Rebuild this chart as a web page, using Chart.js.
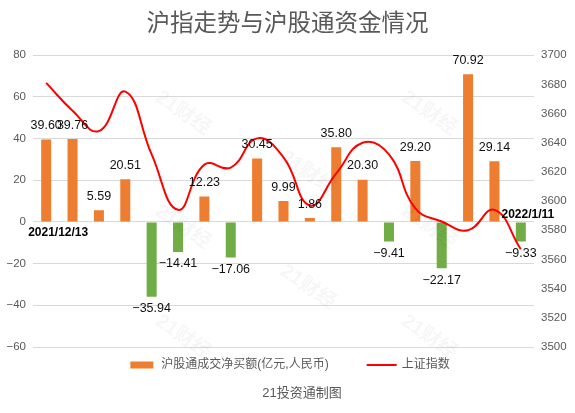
<!DOCTYPE html>
<html>
<head>
<meta charset="utf-8">
<script src="https://cdn.jsdelivr.net/npm/chart.js@4.4.1/dist/chart.umd.min.js"></script>
<style>
  html, body { margin: 0; padding: 0; background: #fff; }
  #wrap { width: 575px; height: 413px; position: relative; }
</style>
</head>
<body>
<div id="wrap"><canvas id="chart"></canvas></div>
<script>
// 日期（沪股通交易日）
const dates = [
  "2021/12/13", "2021/12/14", "2021/12/15", "2021/12/16", "2021/12/17",
  "2021/12/20", "2021/12/21", "2021/12/22", "2021/12/23", "2021/12/28",
  "2021/12/29", "2021/12/30", "2021/12/31", "2022/1/4", "2022/1/5",
  "2022/1/6", "2022/1/7", "2022/1/10", "2022/1/11"
];

// 沪股通成交净买额（亿元）
const netBuy = [
  39.60, 39.76, 5.59, 20.51, -35.94, -14.41, 12.23, -17.06, 30.45, 9.99,
  1.86, 35.80, 20.30, -9.41, 29.20, -22.17, 70.92, 29.14, -9.33
];

// 上证指数收盘
const shIndex = [
  3681, 3662, 3648, 3675, 3632, 3594, 3625, 3623, 3643, 3630,
  3597, 3619, 3640, 3632, 3595, 3586, 3580, 3594, 3567
];

const barLabel = "沪股通成交净买额(亿元,人民币)";
const lineLabel = "上证指数";
const titleText = "沪指走势与沪股通资金情况";
const sourceText = "21投资通制图";

const ORANGE = "#ED7D31";
const GREEN = "#70AD47";
const RED = "#FF0000";
const GREY = "#595959";
const FONT = '"Liberation Sans", "Noto Sans CJK SC", sans-serif';

Chart.defaults.font.family = FONT;

const fmt = (v, d) => (v < 0 ? "\u2212" : "") + Math.abs(v).toFixed(d);

// 水印
const watermark = {
  id: "watermark",
  afterDraw(chart) {
    const ctx = chart.ctx;
    const spots = [[183, 113], [429, 113], [308, 173], [183, 227], [429, 227],
                   [308, 287], [183, 337], [429, 337]];
    ctx.save();
    ctx.fillStyle = "rgba(0,0,0,0.035)";
    ctx.font = "bold 20px " + FONT;
    ctx.textAlign = "center";
    ctx.textBaseline = "middle";
    spots.forEach(([x, y]) => {
      ctx.save();
      ctx.translate(x, y);
      ctx.rotate(35 * Math.PI / 180);
      ctx.fillText("21财经", 0, 0);
      ctx.restore();
    });
    ctx.restore();
  }
};

// 柱子数值 + 首尾日期
const barLabels = {
  id: "barLabels",
  afterDatasetsDraw(chart) {
    const ctx = chart.ctx;
    const meta = chart.getDatasetMeta(0);
    const zeroY = chart.scales.y.getPixelForValue(0);
    ctx.save();
    ctx.fillStyle = "#111";
    ctx.font = "12.5px " + FONT;
    ctx.textAlign = "center";
    ctx.textBaseline = "middle";
    meta.data.forEach((bar, i) => {
      const v = netBuy[i];
      const y = v >= 0 ? bar.y - 14 : bar.y + 12;
      ctx.fillText(fmt(v, 2), bar.x, y);
    });
    ctx.font = "bold 12px " + FONT;
    ctx.fillStyle = "#000";
    const first = meta.data[0];
    const last = meta.data[meta.data.length - 1];
    ctx.fillText(dates[0], first.x + 12, zeroY + 11);
    ctx.fillText(dates[dates.length - 1], last.x + 7, zeroY - 7);
    ctx.restore();
  }
};

// 图例 + 来源
const bottomText = {
  id: "bottomText",
  afterDraw(chart) {
    const ctx = chart.ctx;
    ctx.save();
    ctx.font = "12px " + FONT;
    ctx.textBaseline = "middle";
    ctx.textAlign = "left";
    const w1 = ctx.measureText(barLabel).width;
    const w2 = ctx.measureText(lineLabel).width;
    const total = 23 + 8 + w1 + 38 + 30 + 5 + w2;
    let x = 290 - total / 2;
    const y = 365;
    ctx.fillStyle = ORANGE;
    ctx.fillRect(x, y - 3.5, 23, 7);
    x += 23 + 8;
    ctx.fillStyle = GREY;
    ctx.fillText(barLabel, x, y);
    x += w1 + 38;
    ctx.strokeStyle = RED;
    ctx.lineWidth = 2;
    ctx.beginPath();
    ctx.moveTo(x, y);
    ctx.lineTo(x + 30, y);
    ctx.stroke();
    x += 30 + 5;
    ctx.fillText(lineLabel, x, y);

    ctx.font = "13px " + FONT;
    ctx.textAlign = "center";
    ctx.fillText(sourceText, 302, 393);
    ctx.restore();
  }
};

new Chart(document.getElementById("chart"), {
  data: {
    labels: dates,
    datasets: [
      {
        type: "bar",
        label: barLabel,
        data: netBuy,
        yAxisID: "y",
        backgroundColor: netBuy.map((v) => (v >= 0 ? ORANGE : GREEN)),
        barPercentage: 0.38,
        categoryPercentage: 1,
        order: 1,
      },
      {
        type: "line",
        label: lineLabel,
        data: shIndex,
        yAxisID: "y1",
        borderColor: RED,
        borderWidth: 2,
        pointRadius: 0,
        tension: 0.45,
        fill: false,
        order: 0,
      },
    ],
  },
  options: {
    responsive: true,
    maintainAspectRatio: false,
    animation: false,
    layout: { padding: { left: 0, right: 0, top: 0, bottom: 66 } },
    plugins: {
      legend: { display: false },
      tooltip: { enabled: false },
      title: {
        display: true,
        text: titleText,
        color: GREY,
        font: { size: 23.5, weight: "normal", family: FONT },
        padding: { top: 10, bottom: 17 },
      },
    },
    scales: {
      x: {
        display: false,
        offset: true,
      },
      y: {
        position: "left",
        min: -60,
        max: 80,
        ticks: {
          stepSize: 20,
          color: GREY,
          font: { size: 11.5 },
          padding: 7,
          callback: (v) => fmt(v, 0),
        },
        grid: { color: "#D9D9D9", drawTicks: false },
        border: { display: false },
        afterFit: (s) => { s.width = 33; },
      },
      y1: {
        position: "right",
        min: 3500,
        max: 3700,
        ticks: {
          stepSize: 20,
          color: GREY,
          font: { size: 11.5 },
          padding: 7,
          callback: (v) => String(v),
        },
        grid: { display: false, drawTicks: false },
        border: { display: false },
        afterFit: (s) => { s.width = 41; },
      },
    },
  },
  plugins: [barLabels, bottomText, watermark],
});
</script>
</body>
</html>
